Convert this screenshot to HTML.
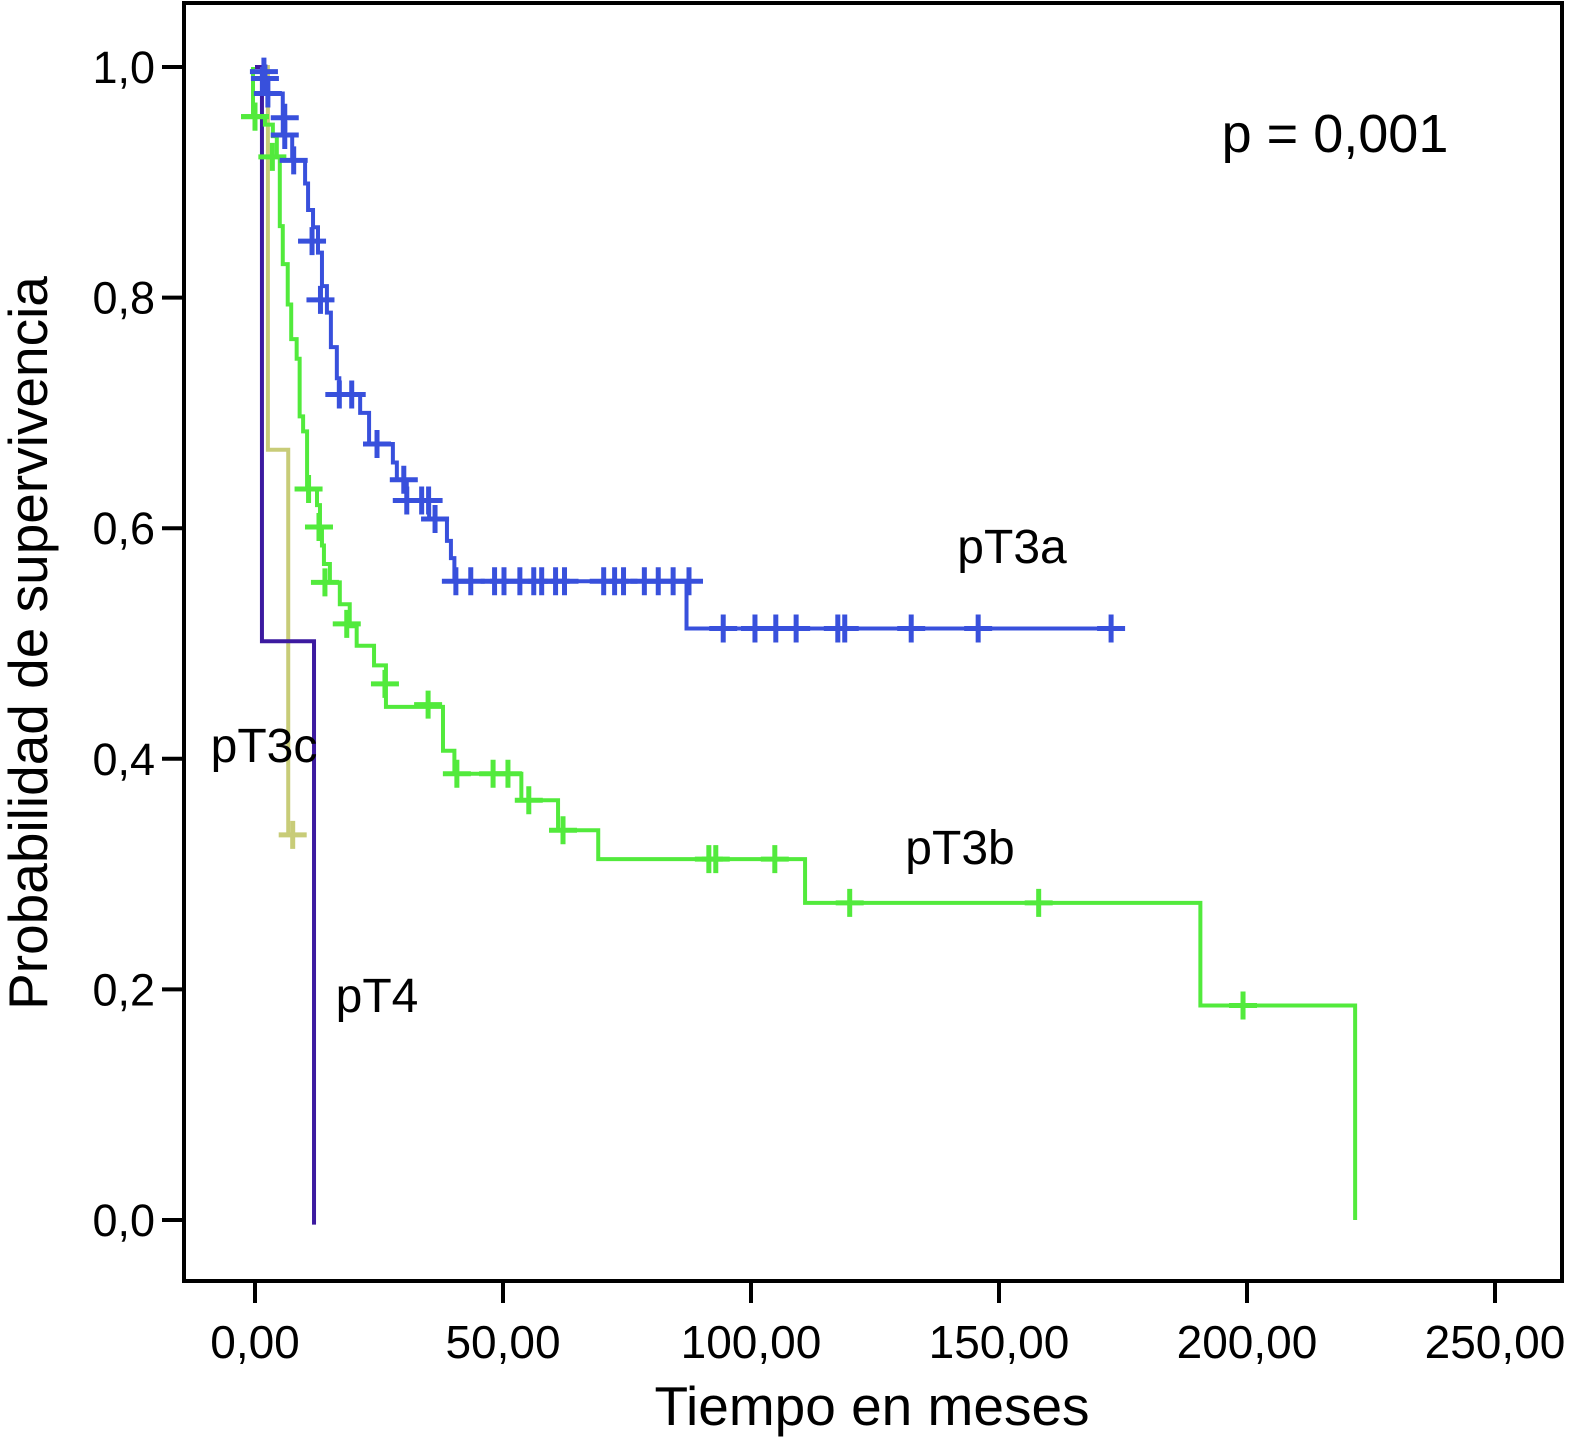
<!DOCTYPE html>
<html><head><meta charset="utf-8"><style>
html,body{margin:0;padding:0;background:#fff;}
svg{display:block;font-family:"Liberation Sans",Arial,sans-serif;}
</style></head><body>
<svg id="chart" width="1576" height="1444" viewBox="0 0 1576 1444">
<rect x="184" y="3" width="1378" height="1278" fill="none" stroke="#000" stroke-width="4"/>
<g id="axes"></g>
<g id="series"></g>
<text x="1335" y="152" font-size="54" text-anchor="middle">p = 0,001</text>
<text x="1012" y="563" font-size="48" text-anchor="middle">pT3a</text>
<text x="960" y="864" font-size="48" text-anchor="middle">pT3b</text>
<text x="264" y="762" font-size="48" text-anchor="middle">pT3c</text>
<text x="377" y="1012" font-size="48" text-anchor="middle">pT4</text>
<text x="872" y="1425" font-size="55" text-anchor="middle">Tiempo en meses</text>
<text transform="translate(47,643) rotate(-90)" font-size="55" text-anchor="middle">Probabilidad de supervivencia</text>
</svg>
<script>
const xTicks=[0,50,100,150,200,250];
const xTickLabels=["0,00","50,00","100,00","150,00","200,00","250,00"];
const yTicks=[0,0.2,0.4,0.6,0.8,1.0];
const yTickLabels=["0,0","0,2","0,4","0,6","0,8","1,0"];
const aTimes=[1.4,5.6,7.5,10.1,10.7,11.7,12.7,13.5,14.5,15.3,16.5,17,21.2,23.0,27.8,28.6,30.6,35.1,38.7,39.5,40.2,87.0];
const aSurv=[0.977,0.941,0.919,0.899,0.876,0.861,0.839,0.810,0.787,0.757,0.730,0.716,0.700,0.673,0.657,0.642,0.624,0.608,0.589,0.574,0.554,0.513];
const aEnd=175;
const aCensT=[1.8,2,2.6,6,6,7.8,11.5,13.2,17,19.5,24.6,30,30.6,33.6,35,36.3,40.5,43.5,48.3,50.2,53.4,56.2,57.8,60.6,62.4,70.3,72.5,74.3,78.5,81.3,84.3,87.5,94.4,100.8,105.0,109.1,117.5,118.9,132.3,145.8,172.6];
const aCensS=[0.996,0.99,0.977,0.956,0.941,0.919,0.849,0.798,0.716,0.716,0.673,0.642,0.624,0.624,0.624,0.608,0.554,0.554,0.554,0.554,0.554,0.554,0.554,0.554,0.554,0.554,0.554,0.554,0.554,0.554,0.554,0.554,0.513,0.513,0.513,0.513,0.513,0.513,0.513,0.513,0.513];
const bTimes=[-0.4,2,3.6,4.4,5.0,5.6,6.6,7.3,8.4,9.0,9.7,10.5,12.5,13.1,13.5,13.9,15.1,17.1,19.1,20.5,24.0,26.4,37.9,40.2,53.7,61.1,69.2,110.9,190.6,221.8];
const bSurv=[0.957,0.950,0.940,0.922,0.862,0.829,0.794,0.764,0.747,0.697,0.684,0.634,0.620,0.601,0.585,0.569,0.553,0.534,0.515,0.498,0.481,0.445,0.407,0.387,0.364,0.338,0.313,0.275,0.186,0.0];
const bEnd=221.8;
const bCensT=[0,0,3.5,10.8,12.9,14.1,18.5,26.2,34.9,40.7,48,51,55.2,62.1,91.5,92.9,104.8,119.9,158,199.2];
const bCensS=[0.957,0.957,0.922,0.634,0.601,0.553,0.517,0.465,0.447,0.387,0.387,0.387,0.364,0.338,0.313,0.313,0.313,0.275,0.275,0.186];
const cTimes=[2.6,6.7];
const cSurv=[0.668,0.334];
const cEnd=9;
const cCensT=[7.6];
const cCensS=[0.334];
const dTimes=[1.4,11.9];
const dSurv=[0.502,-0.004];
const dEnd=11.9;

const X=t=>255+t*(1495-255)/250;
const Y=s=>1220-s*(1220-67);
const NS="http://www.w3.org/2000/svg";
const axes=document.getElementById('axes'), series=document.getElementById('series');
function mk(tag,attrs,parent){const e=document.createElementNS(NS,tag);for(const k in attrs)e.setAttribute(k,attrs[k]);parent.appendChild(e);return e;}
xTicks.forEach((v,i)=>{
  const l=mk('line',{x1:X(v),x2:X(v),y1:1281,y2:1303,stroke:'#000','stroke-width':4},axes);
  
  
  const t=mk('text',{x:X(v),y:1358,'font-size':46,'text-anchor':'middle'},axes);
  t.textContent=xTickLabels[i];
  
  
});
yTicks.forEach((v,i)=>{
  const l=mk('line',{x1:162,x2:184,y1:Y(v),y2:Y(v),stroke:'#000','stroke-width':4},axes);
  
  
  const t=mk('text',{x:155,y:Y(v)+16,'font-size':45,'text-anchor':'end'},axes);
  t.textContent=yTickLabels[i];
  
  
});
function curve(times,surv,end,color,name,start){
  let d='M'+X(start)+','+Y(1);
  for(let i=0;i<times.length;i++){d+=' H'+X(times[i])+' V'+Y(surv[i]);}
  d+=' H'+X(end);
  const p=mk('path',{d:d,fill:'none',stroke:color,'stroke-width':4},series);
  
  
}
function cens(ts,ss,color,name){
  ts.forEach((t,i)=>{
    const g=mk('path',{d:`M${X(t)-14},${Y(ss[i])} h28 M${X(t)},${Y(ss[i])-14} v28`,stroke:color,'stroke-width':5,fill:'none'},series);
    
    
  });
}
curve(cTimes,cSurv,cEnd,'#c8cc78','curve-pT3c',0);
cens(cCensT,cCensS,'#c8cc78','censor-pT3c');
curve(dTimes,dSurv,dEnd,'#3c1aa0','curve-pT4',0);
curve(bTimes,bSurv,bEnd,'#52ea3c','curve-pT3b',-0.4);
cens(bCensT,bCensS,'#52ea3c','censor-pT3b');
curve(aTimes,aSurv,aEnd,'#3850dc','curve-pT3a',1.4);
cens(aCensT,aCensS,'#3850dc','censor-pT3a');
</script>
</body></html>
